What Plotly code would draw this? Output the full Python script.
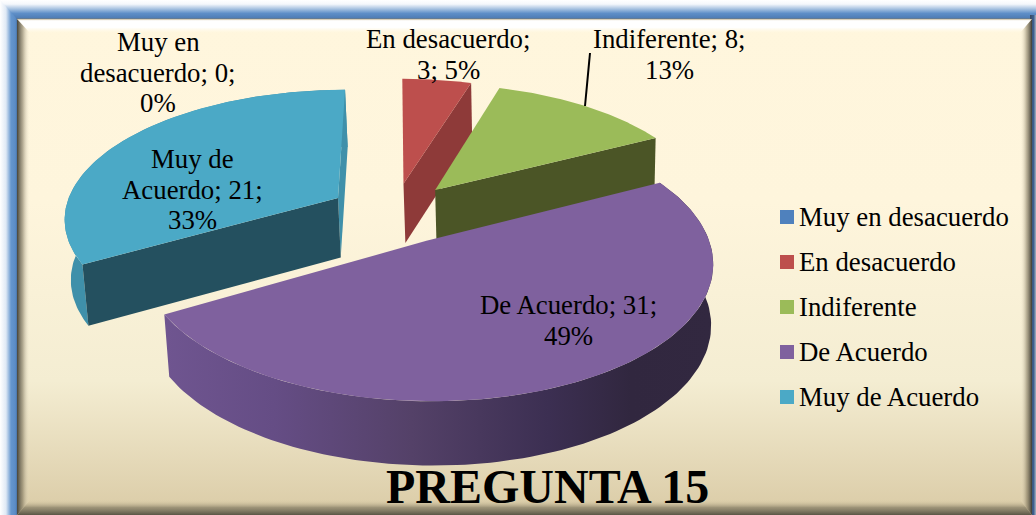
import numpy as np
import plotly.graph_objects as go

categories = ["Muy en desacuerdo", "En desacuerdo", "Indiferente", "De Acuerdo", "Muy de Acuerdo"]
values = [0, 3, 8, 31, 21]
label_line_words = [[2, 2, 1], [2, 2], [2, 1], [3, 1], [2, 2, 1]]
title_text = "PREGUNTA 15"

top_colors = ["#4f81bd", "#bd4f4d", "#9bbb59", "#7f619e", "#4ba9c6"]
cut_colors = ["#2f4d71", "#8e3a39", "#4b5526", "#4c3a5f", "#24505f"]
outer_colors = ["#3f6ca0", "#a04341", "#839f4b", "#6f5590", "#3f90aa"]

W, H = 1036, 515
CX, CY, RX, RY, K, EXPLODE = 394.0, 213.0, 274.0, 128.0, 0.146, 0.24
VANISH_X, LOWER_SCALE = 552.0, 0.9873
FONT = "Liberation Serif"

total = sum(values)
pcts = [round(100 * v / total) for v in values]


def project(u, v, lower=False):
    u, v = np.asarray(u, float), np.asarray(v, float)
    f = 1 / (1 - K * v)
    x = CX + RX * u * f
    y = CY + RY * v * f
    if lower:
        x = VANISH_X + (x - VANISH_X) * LOWER_SCALE
        y = y + 40 + 20 * f
    return x, y


fig = go.Figure()


def poly(x, y, color=None, gradient=None):
    kw = dict(fillgradient=gradient) if gradient else dict(fillcolor=color)
    fig.add_trace(go.Scatter(x=list(x), y=list(y), mode="lines", fill="toself", line=dict(width=0),
                             hoverinfo="skip", showlegend=False, **kw))


def grad(kind, stops):
    # stops are given top to bottom / left to right; the y axis is reversed here
    if kind == "vertical":
        stops = [[1 - p, c] for p, c in reversed(stops)]
    return dict(type=kind, colorscale=stops)


# page, blue frame
poly([0, W, W, 0], [0, 0, H, H], gradient=grad("horizontal", [[0, "#ffffff"], [0.008, "#e6eef8"], [0.016, "#5f90cb"], [1, "#5f90cb"]]))
poly([0, W, W, 0], [0, 0, 19, 19], gradient=grad("vertical", [[0, "#ffffff"], [0.22, "#f4f7fb"], [0.5, "#9dbbdd"], [0.7, "#5f8fc8"], [0.95, "#4f7db5"], [1, "#7a7a70"]]))
poly([0, 17, 17, 0], [0, 19, H, H], gradient=grad("horizontal", [[0, "#ffffff"], [0.35, "#dfe9f5"], [0.65, "#6596ce"], [0.9, "#5b8cc6"], [1, "#4a74a8"]]))
poly([1030, W, W, 1030], [15, 15, H, H], gradient=grad("horizontal", [[0, "#3b4a5c"], [0.6, "#3d5f8f"], [1, "#a9b4c0"]]))

# panel background and bevel
poly([17, 1032, 1032, 17], [19, 19, H, H], gradient=grad("vertical", [[0, "#fff6dd"], [0.37, "#fef5dc"], [0.73, "#f4edd2"], [1, "#dacba6"]]))
poly([17, 1032, 1020, 30], [19, 19, 33, 33], gradient=grad("vertical", [[0, "#c8b99a"], [0.12, "#ffffff"], [0.6, "#ffffff"], [1, "rgba(255,250,232,0)"]]))
poly([17, 30, 30, 17], [19, 33, 500, H], gradient=grad("horizontal", [[0, "rgba(70,68,58,1)"], [0.45, "rgba(120,112,90,0.55)"], [1, "rgba(255,246,221,0)"]]))
poly([1032, 1020, 1020, 1032], [19, 33, 500, H], gradient=grad("horizontal", [[0, "rgba(255,246,221,0)"], [0.55, "rgba(130,120,95,0.55)"], [1, "rgba(60,58,50,1)"]]))
poly([17, 30, 1020, 1032], [H, 500, 500, H], gradient=grad("vertical", [[0, "rgba(218,203,166,0)"], [0.5, "rgba(130,122,98,0.7)"], [1, "rgba(90,86,70,1)"]]))

# pie geometry: every wedge angle comes from the values
sweeps = [360 * v / total for v in values]
starts = np.cumsum([0] + sweeps[:-1])
wedges = {}
for i, (s, w) in enumerate(zip(starts, sweeps)):
    if values[i] == 0:
        continue
    mid = np.radians(s + w / 2)
    apex = (EXPLODE * np.sin(mid), -EXPLODE * np.cos(mid))
    t = np.radians(np.linspace(s, s + w, 120))
    wedges[i] = (apex[0], apex[1], apex[0] + np.sin(t), apex[1] - np.cos(t))


def draw_wedge(i, wall=True, wall_gradient=None, dark_cut=None, light_cut=None):
    au, av, u, v = wedges[i]
    tx, ty = project(u, v)
    bx, by = project(u, v, True)
    ax, ay = project(au, av)
    abx, aby = project(au, av, True)
    if wall:
        if wall_gradient:
            poly(np.r_[tx, bx[::-1]], np.r_[ty, by[::-1]], gradient=wall_gradient)
        else:
            poly(np.r_[tx, bx[::-1]], np.r_[ty, by[::-1]], color=outer_colors[i])
    if light_cut is not None:
        poly([ax, tx[light_cut], bx[light_cut], abx], [ay, ty[light_cut], by[light_cut], aby], color=outer_colors[i])
    if dark_cut is not None:
        poly([ax, tx[dark_cut], bx[dark_cut], abx], [ay, ty[dark_cut], by[dark_cut], aby], color=cut_colors[i])
    poly(np.r_[ax, tx], np.r_[ay, ty], color=top_colors[i])


draw_wedge(1, wall=False, dark_cut=-1)
draw_wedge(2, wall=False, dark_cut=-1)
draw_wedge(4, dark_cut=0, light_cut=-1)
draw_wedge(3, wall_gradient=grad("horizontal", [[0, "#6f5590"], [0.2, "#654d85"], [0.45, "#544168"], [0.7, "#3c2f52"], [0.85, "#31273f"], [1, "#322840"]]))

# leader line of the Indiferente label
fig.add_trace(go.Scatter(x=[590, 585], y=[53, 106], mode="lines", line=dict(color="#000000", width=2),
                         hoverinfo="skip", showlegend=False))

# legend
legend_rows = [217, 262, 307, 352, 397]
fig.add_trace(go.Scatter(x=[787] * 5, y=legend_rows, mode="markers",
                         marker=dict(symbol="square", size=14, color=top_colors, line=dict(width=0)),
                         hoverinfo="skip", showlegend=False))
annotations = []
for c, yy in zip(categories, legend_rows):
    annotations.append(dict(x=797, y=yy, text=c, xanchor="left", yanchor="middle", showarrow=False,
                            font=dict(family=FONT, size=26.8, color="#000000")))

# data labels
label_pos = [(158, 42), (448, 39), (669, 39), (568, 305), (192, 159)]
for c, v, p, words_per_line, (lx, ly) in zip(categories, values, pcts, label_line_words, label_pos):
    words = f"{c}; {v}; {p}%".split(" ")
    pos = 0
    for n, count in enumerate(words_per_line):
        annotations.append(dict(x=lx, y=ly + n * 30.5, text=" ".join(words[pos:pos + count]), xanchor="center",
                                yanchor="middle", showarrow=False, font=dict(family=FONT, size=26.8, color="#000000")))
        pos += count

annotations.append(dict(x=547, y=486, text=f"<b>{title_text}</b>", xanchor="center", yanchor="middle", showarrow=False,
                        font=dict(family=FONT, size=48.0, color="#000000")))

fig.update_layout(
    width=W, height=H, margin=dict(l=0, r=0, t=0, b=0), showlegend=False,
    paper_bgcolor="#ffffff", plot_bgcolor="#ffffff", annotations=annotations,
    xaxis=dict(range=[0, W], visible=False, fixedrange=True),
    yaxis=dict(range=[H, 0], visible=False, fixedrange=True),
)
fig.write_html("out.html", include_plotlyjs=True, config={"displayModeBar": False},
               post_script="document.body.style.margin='0';")
